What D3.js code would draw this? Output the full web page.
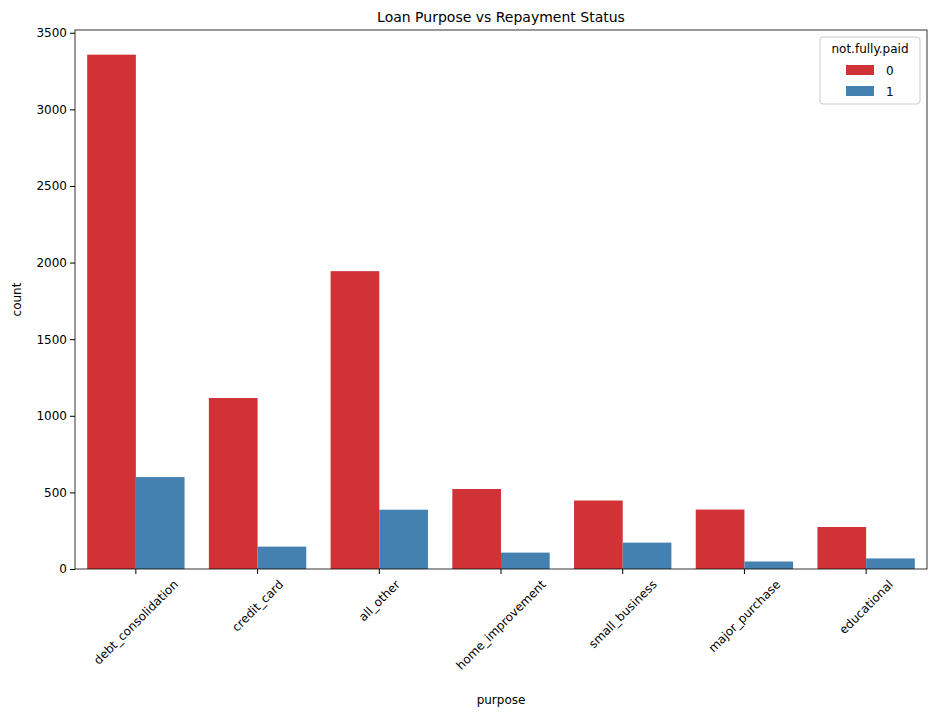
<!DOCTYPE html>
<html lang="en">
<head>
<meta charset="UTF-8">
<title>Loan Purpose vs Repayment Status</title>
<style>
  body { margin: 0; background: #fff; }
  svg text { font-family: "DejaVu Sans", sans-serif; fill: #000; }
</style>
</head>
<body>
<svg id="chart" width="937" height="717"></svg>
<script src="https://d3js.org/d3.v7.min.js"></script>
<script>
// Data
const purposes = ['debt_consolidation', 'credit_card', 'all_other', 'home_improvement', 'small_business', 'major_purchase', 'educational'];
const paid0 = [3357, 1116, 1944, 522, 447, 388, 274];
const paid1 = [600, 146, 387, 107, 172, 49, 69];
const hueLevels = ['0', '1'];
const hueColors = ['#d03236', '#4480b0'];
const yTicks = [0, 500, 1000, 1500, 2000, 2500, 3000, 3500];

const margin = { top: 30, right: 10, bottom: 148, left: 75 };
const width = 937 - margin.left - margin.right;
const height = 717 - margin.top - margin.bottom;

const svg = d3.select('#chart');
const g = svg.append('g').attr('transform', `translate(${margin.left},${margin.top})`);

const x = d3.scaleBand().domain(purposes).range([0, width]).paddingInner(0.2).paddingOuter(0.1);
const xHue = d3.scaleBand().domain(hueLevels).range([0, x.bandwidth()]);
const y = d3.scaleLinear().domain([0, 3518]).range([height, 0]);

const rows = purposes.map((p, i) => ({ p, vals: [paid0[i], paid1[i]] }));

g.selectAll('.grp').data(rows).enter().append('g')
  .attr('transform', d => `translate(${x(d.p)},0)`)
  .selectAll('rect').data(d => d.vals.map((v, j) => ({ v, j })))
  .enter().append('rect')
  .attr('x', d => xHue(hueLevels[d.j]))
  .attr('width', xHue.bandwidth())
  .attr('y', d => y(d.v))
  .attr('height', d => height - y(d.v))
  .attr('fill', d => hueColors[d.j]);

const xAxis = g.append('g').attr('transform', `translate(0,${height})`)
  .call(d3.axisBottom(x).tickSizeOuter(0).tickSize(5));
// matplotlib style: label centred on tick, rotated 45deg about its centre
xAxis.selectAll('text')
  .style('font-size', '12px')
  .attr('text-anchor', 'middle')
  .attr('dy', '0.35em')
  .each(function() {
    const L = this.getComputedTextLength();
    const half = (L + 12) * Math.SQRT1_2 / 2;
    const cy = 9 + half;
    d3.select(this).attr('x', 0).attr('y', cy)
      .attr('transform', `rotate(-45 0 ${cy})`);
  });

const yAxis = g.append('g').call(d3.axisLeft(y).tickValues(yTicks).tickFormat(d3.format('d')).tickSizeOuter(0).tickSize(5));
yAxis.selectAll('text').style('font-size', '12px');

g.append('rect').attr('width', width).attr('height', height)
  .attr('fill', 'none').attr('stroke', '#000').attr('stroke-width', 0.8);
g.selectAll('.domain').remove();

svg.append('text').attr('x', margin.left + width / 2).attr('y', 22)
  .attr('text-anchor', 'middle').style('font-size', '14px').text('Loan Purpose vs Repayment Status');
svg.append('text').attr('x', margin.left + width / 2).attr('y', 704)
  .attr('text-anchor', 'middle').style('font-size', '12px').text('purpose');
svg.append('text').attr('transform', `translate(21,${margin.top + height / 2}) rotate(-90)`)
  .attr('text-anchor', 'middle').style('font-size', '12px').text('count');

// Legend
const lg = svg.append('g').attr('transform', 'translate(820,37)');
lg.append('rect').attr('width', 100).attr('height', 67).attr('rx', 3)
  .attr('fill', '#fff').attr('stroke', '#ccc');
lg.append('text').attr('x', 50).attr('y', 16).attr('text-anchor', 'middle')
  .style('font-size', '12px').text('not.fully.paid');
hueLevels.forEach((h, i) => {
  lg.append('rect').attr('x', 26).attr('y', 28 + i * 21).attr('width', 28).attr('height', 10)
    .attr('fill', hueColors[i]);
  lg.append('text').attr('x', 66).attr('y', 38 + i * 21).style('font-size', '12px').text(h);
});
</script>
</body>
</html>
